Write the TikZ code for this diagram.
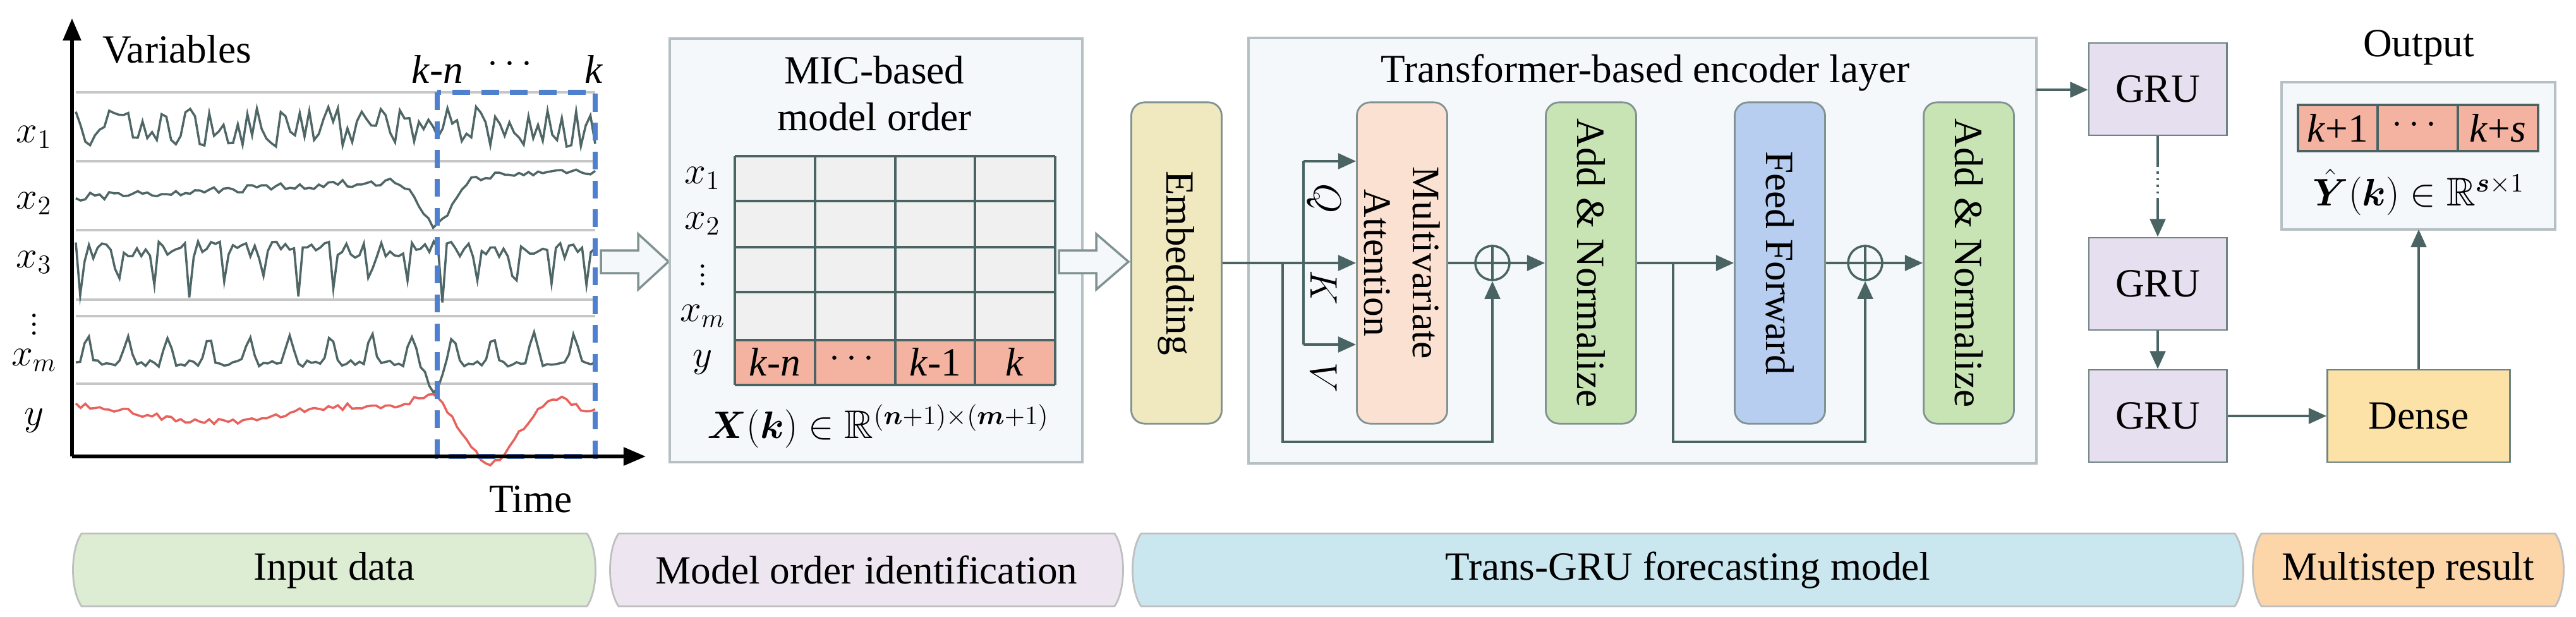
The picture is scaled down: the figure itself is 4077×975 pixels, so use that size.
\documentclass[tikz,border=0pt]{standalone}
\usepackage{amsmath,amssymb}
\usepackage{fontspec}
\setmainfont{Liberation Serif}
\usetikzlibrary{arrows.meta,calc}
\definecolor{ln}{HTML}{4A6464}
\definecolor{bx}{HTML}{B5BFC4}
\definecolor{panel}{HTML}{F5F8FB}
\definecolor{emb}{HTML}{F0E9C0}
\definecolor{mat}{HTML}{FBE1D2}
\definecolor{adn}{HTML}{C8E4B4}
\definecolor{ffd}{HTML}{B8CEF0}
\definecolor{gru}{HTML}{E6DFEF}
\definecolor{dns}{HTML}{FDE2A8}
\definecolor{red}{HTML}{F4B3A0}
\definecolor{cell}{HTML}{F0F0F0}
\definecolor{bl}{HTML}{4F80D0}
\definecolor{bA}{HTML}{DCEDD3}
\definecolor{bB}{HTML}{EDE6F1}
\definecolor{bC}{HTML}{CAE7F0}
\definecolor{bD}{HTML}{FCD6A8}
\definecolor{crv}{HTML}{4F6666}
\definecolor{rc}{HTML}{E8615C}
\begin{document}
\begin{tikzpicture}[x=0.01cm,y=-0.01cm,
  every node/.style={font=\fontsize{18}{21}\selectfont},
  con/.style={draw=ln,line width=1pt},
  arr/.style={con,-{Triangle[length=8pt,width=7pt]}},
  rbox/.style={draw=ln!70,rounded corners=6pt,line width=0.8pt,minimum width=1.43cm,minimum height=5.08cm,inner sep=0pt},
  sbox/.style={draw=ln!80,line width=0.8pt,minimum width=2.18cm,minimum height=1.46cm,inner sep=0pt},
  panelbox/.style={draw=bx,fill=panel,line width=1pt},
  hollow/.style={draw=ln!70,fill=panel,line width=1pt},
  band/.style={draw=gray!50,line width=0.8pt},
  vd/.style={font=\fontsize{13}{15}\selectfont,inner sep=0pt},
  oplus/.style={circle,draw=ln,line width=1pt,minimum size=0.54cm,inner sep=0pt}]
\useasboundingbox (0,0) rectangle (4077,975);

% ---------- input data plot ----------
\foreach \yy in {146,255,364,474,500,607}{\draw[gray!45,line width=1pt] (120,\yy) -- (942,\yy);}
\pgfmathsetseed{7}
\draw[crv,line width=1pt] plot[domain=120:942,samples=110] (\x,{200+32*(2*rnd-1)});
\draw[crv,line width=1pt] plot[domain=120:942,samples=110] (\x,{312-0.05*(\x-120)+75*exp(-((\x-690)/32)^2)+6*(2*rnd-1)});
\draw[crv,line width=1pt] plot[domain=120:942,samples=120] (\x,{395+14*(2*rnd-1)+70*pow(max(0,sin(6.3*\x)),10)});
\draw[crv,line width=1pt] plot[domain=120:942,samples=120] (\x,{575-45*pow(max(0,sin(5.6*\x+40)),3)+5*(2*rnd-1)+45*exp(-((\x-688)/14)^2)});
\draw[rc,line width=1pt] plot[domain=120:942,samples=110] (\x,{655-12*sin(0.8*\x)+5*(2*rnd-1)-30*exp(-((\x-680)/40)^2)+65*exp(-((\x-775)/45)^2)-30*exp(-((\x-875)/35)^2)});
\draw[bl,dashed,line width=2pt,dash pattern=on 8pt off 5pt] (692,146) rectangle (942,722);
\draw[black,line width=1.6pt,-{Triangle[length=10pt,width=8pt]}] (114,722) -- (114,29);
\draw[black,line width=1.6pt,-{Triangle[length=10pt,width=8pt]}] (114,722) -- (1022,722);
\node (var) at (280,78) {Variables};
\node (time) at (840,790) {Time};
\node (kn) at (692,110) {\textit{k}-\textit{n}};
\node (kd) at (812,102) {$\cdots$};
\node (kk) at (940,110) {\textit{k}};
\node (l1) at (54,217) {$x_1$};
\node (l2) at (54,322) {$x_2$};
\node (l3) at (54,415) {$x_3$};
\node[vd] (l4) at (54,503) {$\vdots$};
\node (l5) at (54,570) {$x_m$};
\node (l6) at (54,665) {$y$};

% hollow arrow 1
\draw[hollow] (951,396) -- (1010,396) -- (1010,370) -- (1058,414) -- (1010,458) -- (1010,432) -- (951,432) -- cycle;

% ---------- MIC panel ----------
\draw[panelbox] (1060,61) rectangle (1713,731);
\node[align=center,font=\fontsize{18}{22}\selectfont] (mic) at (1384,148) {MIC-based\\[-1pt]model order};
\fill[cell] (1163,247) rectangle (1670,538);
\fill[red] (1163,538) rectangle (1670,609);
\foreach \yy in {247,318,391,462,538,609}{\draw[ln,line width=0.9pt] (1163,\yy) -- (1670,\yy);}
\foreach \xx in {1163,1290,1417,1543,1670}{\draw[ln,line width=0.9pt] (\xx,247) -- (\xx,609);}
\node (m1) at (1112,282) {$x_1$};
\node (m2) at (1112,354) {$x_2$};
\node[vd] (m3) at (1112,425) {$\vdots$};
\node (m4) at (1112,500) {$x_m$};
\node (m5) at (1112,573) {$y$};
\node (c1) at (1226,573) {\textit{k}-\textit{n}};
\node (c2) at (1353,568) {$\cdots$};
\node (c3) at (1480,573) {\textit{k}-1};
\node (c4) at (1606,573) {\textit{k}};
\node (xk) at (1390,674) {$\boldsymbol{X}(\boldsymbol{k})\in\mathbb{R}^{(\boldsymbol{n}+1)\times(\boldsymbol{m}+1)}$};

% hollow arrow 2
\draw[hollow] (1676,396) -- (1735,396) -- (1735,370) -- (1786,414) -- (1735,458) -- (1735,432) -- (1676,432) -- cycle;

% ---------- Embedding + transformer ----------
\node[rbox,fill=emb] (emb) at (1862,416) {};
\node[rotate=-90] at (emb) {Embedding};
\draw[panelbox] (1976,60) rectangle (3223,733);
\node (tr) at (2604,115) {Transformer-based encoder layer};
\node[rbox,fill=mat] (ma) at (2219,416) {};
\node[rotate=-90,align=center,font=\fontsize{17.5}{22}\selectfont] at (ma) {Multivariate\\Attention};
\node[rbox,fill=adn] (an1) at (2518,416) {};
\node[rotate=-90] at (an1) {Add \& Normalize};
\node[rbox,fill=ffd] (ff) at (2817,416) {};
\node[rotate=-90] at (ff) {Feed Forward};
\node[rbox,fill=adn] (an2) at (3116,416) {};
\node[rotate=-90] at (an2) {Add \& Normalize};
\node[oplus] (o1) at (2362,416) {};
\draw[ln,line width=1pt] (o1.north) -- (o1.south) (o1.west) -- (o1.east);
\node[oplus] (o2) at (2952,416) {};
\draw[ln,line width=1pt] (o2.north) -- (o2.south) (o2.west) -- (o2.east);

\coordinate (bq) at (2063,255);
\coordinate (bv) at (2063,545);
\coordinate (s1) at (2030,416);
\coordinate (s1b) at (2030,699);
\coordinate (s2) at (2648,416);
\coordinate (s2b) at (2648,699);
\draw[arr] (emb.east) -- (ma.west |- emb.east);
\draw[con] (bq) -- (bv);
\draw[arr] (bq) -- (ma.west |- bq);
\draw[arr] (bv) -- (ma.west |- bv);
\draw[arr] (s1) -- (s1b) -| (o1.south);
\draw[con] (ma.east |- o1) -- (o1.west);
\draw[arr] (o1.east) -- (an1.west |- o1);
\draw[arr] (an1.east |- s2) -- (ff.west |- s2);
\draw[arr] (s2) -- (s2b) -| (o2.south);
\draw[con] (ff.east |- o2) -- (o2.west);
\draw[arr] (o2.east) -- (an2.west |- o2);
\node[rotate=-90] (q) at (2095,314) {$Q$};
\node[rotate=-90] (kl) at (2095,455) {$K$};
\node[rotate=-90] (vl) at (2095,597) {$V$};

% ---------- GRU ----------
\node[sbox,fill=gru] (g1) at (3415,141) {GRU};
\node[sbox,fill=gru] (g2) at (3415,449) {GRU};
\node[sbox,fill=gru] (g3) at (3415,658) {GRU};
\node[sbox,fill=dns,minimum width=2.89cm] (dn) at (3828,658) {Dense};
\coordinate (tro) at (3223,142);
\draw[arr] (tro) -- (g1.west |- tro);
\draw[con] (g1.south) -- ++(0,45) coordinate (d1);
\draw[con,dotted,line width=1.4pt] (d1) -- ++(0,55) coordinate (d2);
\draw[arr] (d2) -- (g2.north);
\draw[arr] (g2.south) -- (g3.north);
\draw[arr] (g3.east) -- (dn.west);

% ---------- Output ----------
\node (outt) at (3828,75) {Output};
\draw[panelbox] (3611,130) rectangle (4044,363);
\coordinate (ob) at (3828,363);
\draw[arr] (dn.north) -- (ob);
\fill[red] (3637,166) rectangle (4017,239);
\draw[ln,line width=0.9pt] (3637,166) rectangle (4017,239) (3763,166) -- (3763,239) (3890,166) -- (3890,239);
\node (o1t) at (3700,203) {\textit{k}+1};
\node (o2t) at (3826,198) {$\cdots$};
\node (o3t) at (3953,203) {\textit{k}+\textit{s}};
\node (yh) at (3828,304) {$\hat{\boldsymbol{Y}}(\boldsymbol{k})\in\mathbb{R}^{\boldsymbol{s}\times 1}$};

% ---------- bottom bands ----------
\foreach \a/\b/\c/\t/\n in {117/941/bA/Input data/ba,967/1776/bB/Model order identification/bb,1794/3549/bC/Trans-GRU forecasting model/bc,3567/4056/bD/Multistep result/bd}{
  \draw[band,fill=\c] (\a+12,844) -- (\b-12,844) .. controls (\b+6,870) and (\b+6,933) .. (\b-12,959) -- (\a+12,959) .. controls (\a-6,933) and (\a-6,870) .. cycle;
  \node (\n) at ({(\a+\b)/2},902) {\t};
}
\end{tikzpicture}
\end{document}
